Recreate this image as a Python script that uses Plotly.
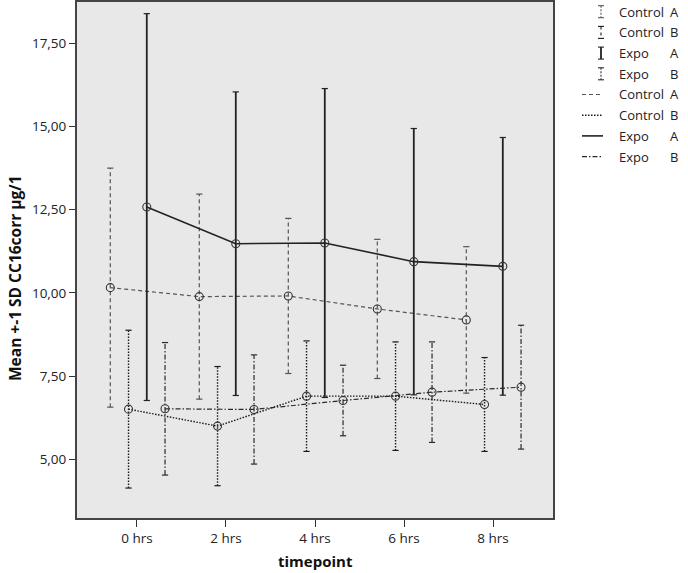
import plotly.graph_objects as go

# ---- data ----
timepoints = ["0 hrs", "2 hrs", "4 hrs", "6 hrs", "8 hrs"]

control_a_mean = [10.16, 9.89, 9.91, 9.52, 9.19]
control_a_sd = [3.59, 3.08, 2.33, 2.09, 2.20]

control_b_mean = [6.51, 6.00, 6.90, 6.90, 6.65]
control_b_sd = [2.37, 1.79, 1.66, 1.63, 1.41]

expo_a_mean = [12.58, 11.48, 11.50, 10.94, 10.80]
expo_a_sd = [5.81, 4.56, 4.64, 4.00, 3.87]

expo_b_mean = [6.52, 6.50, 6.77, 7.02, 7.17]
expo_b_sd = [1.99, 1.64, 1.06, 1.51, 1.86]

y_tick_vals = [5.0, 7.5, 10.0, 12.5, 15.0, 17.5]
y_tick_text = ["5,00", "7,50", "10,00", "12,50", "15,00", "17,50"]

series = [
    # name, group, mean, sd, offset, dash, color, width, stem width
    ("Control", "A", control_a_mean, control_a_sd, -0.30, "4px,3px", "#555555", 1.2, 1.2),
    ("Control", "B", control_b_mean, control_b_sd, -0.095, "1.5px,1.5px", "#1a1a1a", 1.4, 1.4),
    ("Expo", "A", expo_a_mean, expo_a_sd, 0.11, "solid", "#222222", 1.6, 1.8),
    ("Expo", "B", expo_b_mean, expo_b_sd, 0.315, "5px,2px,1.5px,2px", "#2a2a2a", 1.2, 1.2),
]

FONT = "Open Sans"
W, H = 688, 573
L, R, T, B = 77, 553, 2, 518  # plot area in pixels

fig = go.Figure()
cap = 0.035
for name, grp, mean, sd, off, dash, col, lw, sw in series:
    xs = [i + off for i in range(len(timepoints))]
    sx, sy, cx, cy = [], [], [], []
    for x, m, s in zip(xs, mean, sd):
        lo, hi = m - s, m + s
        sx += [x, x, None]
        sy += [lo, hi, None]
        cx += [x - cap, x + cap, None, x - cap, x + cap, None]
        cy += [hi, hi, None, lo, lo, None]
    # error bar stems
    fig.add_trace(go.Scatter(x=sx, y=sy, mode="lines", showlegend=False,
                             line=dict(color=col, width=sw, dash=dash), hoverinfo="skip"))
    # caps
    fig.add_trace(go.Scatter(x=cx, y=cy, mode="lines", showlegend=False,
                             line=dict(color=col, width=1.2), hoverinfo="skip"))
    # mean line with markers
    fig.add_trace(go.Scatter(x=xs, y=mean, mode="lines+markers", name=f"{name} {grp}",
                             showlegend=False,
                             line=dict(color=col, width=lw, dash=dash),
                             marker=dict(symbol="circle-open", size=8,
                                         color="#333333", line=dict(width=1.1, color="#333333"))))

# ---- manual legend (paper coordinates derived from pixels) ----
def px(x):
    return (x - L) / (R - L)

def py(y):
    return (B - y) / (B - T)

shapes = []
annotations = []
leg_y0, leg_dy = 11.7, 20.7
icon_x = 601
for k, (name, grp, mean, sd, off, dash, col, lw, sw) in enumerate(series):
    yc = leg_y0 + leg_dy * k
    shapes.append(dict(type="line", xref="paper", yref="paper",
                       x0=px(icon_x), x1=px(icon_x), y0=py(yc - 6), y1=py(yc + 6),
                       line=dict(color=col, width=sw if sw > 1.5 else 1.1,
                                 dash="solid" if dash == "solid" else ("dot" if dash.startswith("1.5") else "2px,1.5px"))))
    for yy in (yc - 6, yc + 6):
        shapes.append(dict(type="line", xref="paper", yref="paper",
                           x0=px(icon_x - 3), x1=px(icon_x + 3), y0=py(yy), y1=py(yy),
                           line=dict(color=col, width=1.1)))
for k, (name, grp, mean, sd, off, dash, col, lw, sw) in enumerate(series):
    yc = leg_y0 + leg_dy * (k + 4)
    shapes.append(dict(type="line", xref="paper", yref="paper",
                       x0=px(582), x1=px(603), y0=py(yc), y1=py(yc),
                       line=dict(color=col, width=lw, dash=dash)))

for k in range(8):
    name, grp = series[k % 4][0], series[k % 4][1]
    yc = leg_y0 + leg_dy * k
    annotations.append(dict(xref="paper", yref="paper", x=px(617), y=py(yc),
                            text=name, showarrow=False, xanchor="left", yanchor="middle",
                            font=dict(family=FONT, size=13, color="#222222")))
    annotations.append(dict(xref="paper", yref="paper", x=px(668), y=py(yc),
                            text=grp, showarrow=False, xanchor="left", yanchor="middle",
                            font=dict(family=FONT, size=13, color="#222222")))

# axis titles
annotations.append(dict(xref="paper", yref="paper", x=px(315), y=py(561),
                        text="<b>timepoint</b>", showarrow=False,
                        xanchor="center", yanchor="middle",
                        font=dict(family=FONT, size=15, color="#111111")))
annotations.append(dict(xref="paper", yref="paper", x=px(15), y=py(278),
                        text="<b>Mean +-1 SD CC16corr µg/1</b>", showarrow=False, textangle=-90,
                        xanchor="center", yanchor="middle",
                        font=dict(family=FONT, size=15.5, color="#111111")))

fig.update_layout(
    width=W, height=H,
    margin=dict(l=L, r=W - R, t=T, b=H - B, pad=0),
    paper_bgcolor="white",
    plot_bgcolor="#e8e8e8",
    showlegend=False,
    shapes=shapes,
    annotations=annotations,
    font=dict(family=FONT, size=13.5, color="#222222"),
)
fig.update_xaxes(
    range=[-0.674, 4.674], tickvals=list(range(len(timepoints))), ticktext=timepoints,
    showgrid=False, zeroline=False, showline=True, mirror=True,
    linecolor="#444444", linewidth=2, ticks="outside", ticklen=7,
    tickcolor="#333333", tickwidth=1.3, tickfont=dict(family=FONT, size=13.5, color="#222222"),
    automargin=False,
)
fig.update_yaxes(
    range=[3.24, 18.74], tickvals=y_tick_vals, ticktext=y_tick_text,
    showgrid=False, zeroline=False, showline=True, mirror=True,
    linecolor="#444444", linewidth=2, ticks="outside", ticklen=6,
    tickcolor="#333333", tickwidth=1.3, tickfont=dict(family=FONT, size=13.5, color="#222222"),
    automargin=False,
)

fig.write_html("out.html",
               config={"displayModeBar": False},
               post_script="document.body.style.margin='0px';document.body.style.overflow='hidden';")
